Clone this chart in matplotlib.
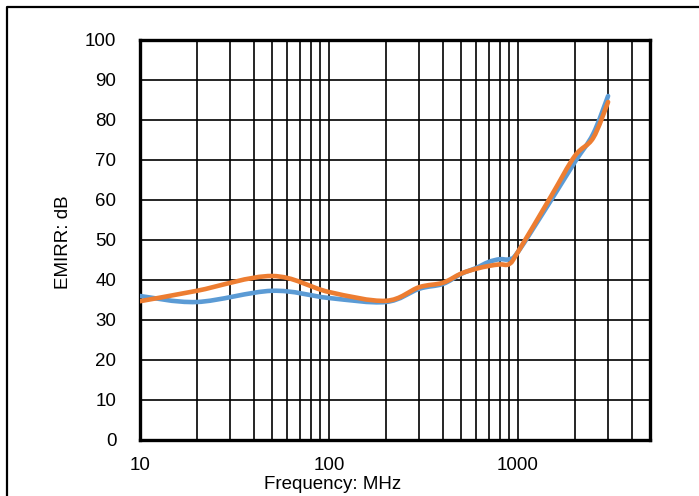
import numpy as np
import matplotlib
matplotlib.use("Agg")
import matplotlib.pyplot as plt
from matplotlib.path import Path
from matplotlib.patches import PathPatch
from matplotlib.lines import Line2D

plt.rcParams['font.family'] = ['Liberation Sans', 'DejaVu Sans']

# frequency points (MHz) and EMIRR (dB)
freq = [10, 20, 50, 100, 200, 300, 400, 500, 600, 700, 800, 900, 1000, 1500, 2000, 2500, 3000]
emirr_blue = [36.0, 34.5, 37.3, 35.5, 34.5, 37.8, 39.0, 41.5, 43.0, 44.5, 45.2, 45.2, 47.0, 60.0, 69.5, 76.5, 86.0]
emirr_orange = [34.7, 37.3, 41.0, 37.0, 34.8, 38.2, 39.3, 41.6, 42.8, 43.5, 43.9, 44.0, 47.0, 61.0, 71.0, 75.5, 84.5]

BLUE = '#5B9BD5'
ORANGE = '#ED7D31'


def smooth_path(xs, ys):
    # Excel style smoothed line: catmull-rom -> bezier, done in log-x space
    lx = np.log10(xs)
    ys = np.asarray(ys, float)
    n = len(lx)
    verts = [(xs[0], ys[0])]
    codes = [Path.MOVETO]
    for i in range(n - 1):
        i0 = max(i - 1, 0)
        i3 = min(i + 2, n - 1)
        c1x = lx[i] + (lx[i + 1] - lx[i0]) / 6
        c1y = ys[i] + (ys[i + 1] - ys[i0]) / 6
        c2x = lx[i + 1] - (lx[i3] - lx[i]) / 6
        c2y = ys[i + 1] - (ys[i3] - ys[i]) / 6
        verts += [(10 ** c1x, c1y), (10 ** c2x, c2y), (xs[i + 1], ys[i + 1])]
        codes += [Path.CURVE4] * 3
    return Path(verts, codes)


fig = plt.figure(figsize=(6.99, 4.96), dpi=100)
ax = fig.add_axes([140 / 699, 1 - 440 / 496, 510 / 699, 400 / 496])

ax.set_xscale('log')
ax.set_xlim(10, 5000)
ax.set_ylim(0, 100)
ax.set_yticks(range(0, 101, 10))
ax.set_xticks([10, 100, 1000])
ax.set_xticklabels(['10', '100', '1000'])
minor = [m * d for d in (10, 100, 1000) for m in range(2, 10) if m * d < 5000]
ax.set_xticks(minor, minor=True)
ax.xaxis.set_minor_formatter(plt.NullFormatter())

ax.grid(True, which='both', axis='x', color='black', lw=1.2)
ax.grid(True, which='major', axis='y', color='black', lw=1.2)
ax.tick_params(which='both', length=0, labelsize=13.5)
ax.tick_params(axis='y', pad=17)
ax.tick_params(axis='x', pad=12)
for s in ax.spines.values():
    s.set_linewidth(2.4)

for ys, col in [(emirr_blue, BLUE), (emirr_orange, ORANGE)]:
    ax.add_patch(PathPatch(smooth_path(freq, ys), fill=False, edgecolor=col,
                           lw=3.3, capstyle='round', joinstyle='round', zorder=3))

ax.set_xlabel('Frequency: MHz', fontsize=13.5)
ax.xaxis.set_label_coords(0.378, -0.09)
ax.set_ylabel('EMIRR: dB', fontsize=13.5)
ax.yaxis.set_label_coords(-0.133, 0.495)

# outer frame of the figure
fig.add_artist(Line2D([7 / 699, 7 / 699, 1.0], [0.0, 1 - 7 / 496, 1 - 7 / 496],
                      transform=fig.transFigure, color='black', lw=1.6))

fig.savefig('out.png', dpi=100)
